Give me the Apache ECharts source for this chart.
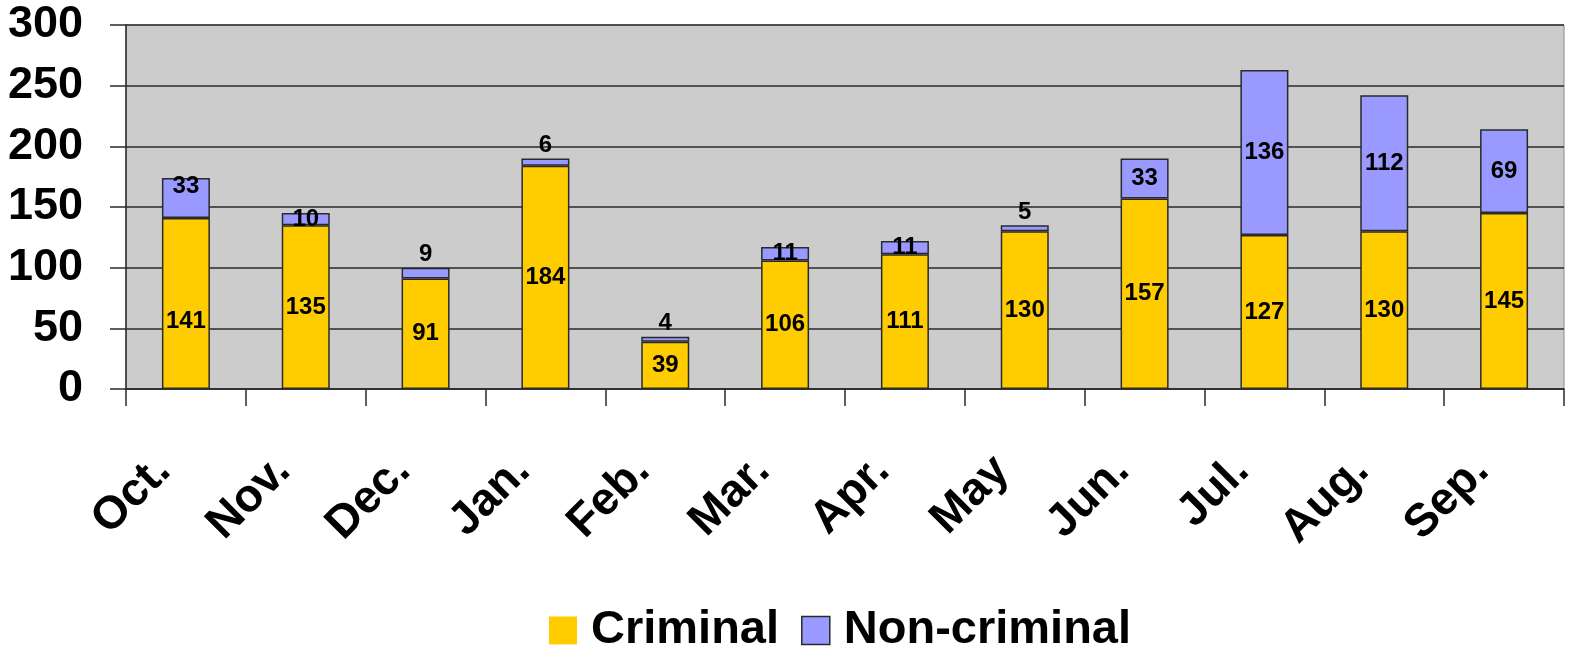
<!DOCTYPE html>
<html>
<head>
<meta charset="utf-8">
<script src="https://cdn.jsdelivr.net/npm/echarts@6/dist/echarts.min.js"></script>
<style>
  html, body { margin: 0; padding: 0; background: #ffffff; }
  #chart { width: 1570px; height: 652px; }
</style>
</head>
<body>
<div id="chart"></div>
<script>
// Monthly case counts, split into criminal and non-criminal
const months = ['Oct.', 'Nov.', 'Dec.', 'Jan.', 'Feb.', 'Mar.', 'Apr.', 'May', 'Jun.', 'Jul.', 'Aug.', 'Sep.'];
const criminal = [141, 135, 91, 184, 39, 106, 111, 130, 157, 127, 130, 145];
const nonCriminal = [33, 10, 9, 6, 4, 11, 11, 5, 33, 136, 112, 69];
const yTicks = [0, 50, 100, 150, 200, 250, 300];

const FONT = "'Liberation Sans', Arial, sans-serif";
const DARK = '#2a2a2a';

const chart = echarts.init(document.getElementById('chart'), null, { renderer: 'canvas' });

// Small segments get their value printed just above the stack;
// the first month's labels were nudged apart by hand in the workbook.
function withLabels(values, firstShift) {
  return values.map((v, i) => {
    if (v < 10) return { value: v, label: { position: 'top', distance: 1 } };
    if (i === 0) return { value: v, label: { offset: [0, firstShift] } };
    return { value: v };
  });
}

const barLabel = {
  show: true,
  position: 'inside',
  color: '#000000',
  fontFamily: FONT,
  fontWeight: 'bold',
  fontSize: 24
};

chart.setOption({
  animation: false,
  backgroundColor: '#ffffff',
  grid: {
    left: 126, right: 6, top: 25, bottom: 263,
    show: true,
    backgroundColor: '#cccccc',
    borderColor: '#8a8a8a',
    borderWidth: 1
  },
  legend: {
    left: 544,
    top: 602,
    itemWidth: 28,
    itemHeight: 28,
    itemGap: 22,
    icon: 'rect',
    textStyle: { fontFamily: FONT, fontWeight: 'bold', fontSize: 47, color: '#000000', padding: [0, 0, 0, 9] },
    data: [
      { name: 'Criminal', itemStyle: { borderWidth: 0 } },
      { name: 'Non-criminal', itemStyle: { borderColor: DARK, borderWidth: 1.5 } }
    ]
  },
  xAxis: {
    type: 'category',
    data: months,
    boundaryGap: true,
    axisLine: { show: true, lineStyle: { color: DARK, width: 1.5 } },
    axisTick: { show: true, interval: 0, length: 17, lineStyle: { color: DARK, width: 1.5 } },
    axisLabel: {
      interval: 0,
      rotate: 45,
      margin: 52,
      padding: [0, 32, 0, 0],
      fontFamily: FONT,
      fontWeight: 'bold',
      fontSize: 46,
      color: '#000000'
    },
    splitLine: { show: false }
  },
  yAxis: {
    type: 'value',
    min: yTicks[0],
    max: yTicks[yTicks.length - 1],
    interval: yTicks[1] - yTicks[0],
    axisLine: { show: true, lineStyle: { color: DARK, width: 1.5 } },
    axisTick: { show: true, inside: false, length: 16, lineStyle: { color: DARK, width: 1.5 } },
    axisLabel: {
      margin: 43,
      fontFamily: FONT,
      fontWeight: 'bold',
      fontSize: 45,
      color: '#000000'
    },
    splitLine: { show: true, lineStyle: { color: DARK, width: 1.5 } }
  },
  series: [
    {
      name: 'Criminal',
      type: 'bar',
      stack: 'cases',
      barWidth: 48,
      data: withLabels(criminal, 18),
      itemStyle: { color: '#ffcc00', borderColor: DARK, borderWidth: 1.5 },
      label: barLabel
    },
    {
      name: 'Non-criminal',
      type: 'bar',
      stack: 'cases',
      barWidth: 48,
      data: withLabels(nonCriminal, -12),
      itemStyle: { color: '#9999ff', borderColor: DARK, borderWidth: 1.5 },
      label: barLabel
    }
  ]
});
</script>
</body>
</html>
